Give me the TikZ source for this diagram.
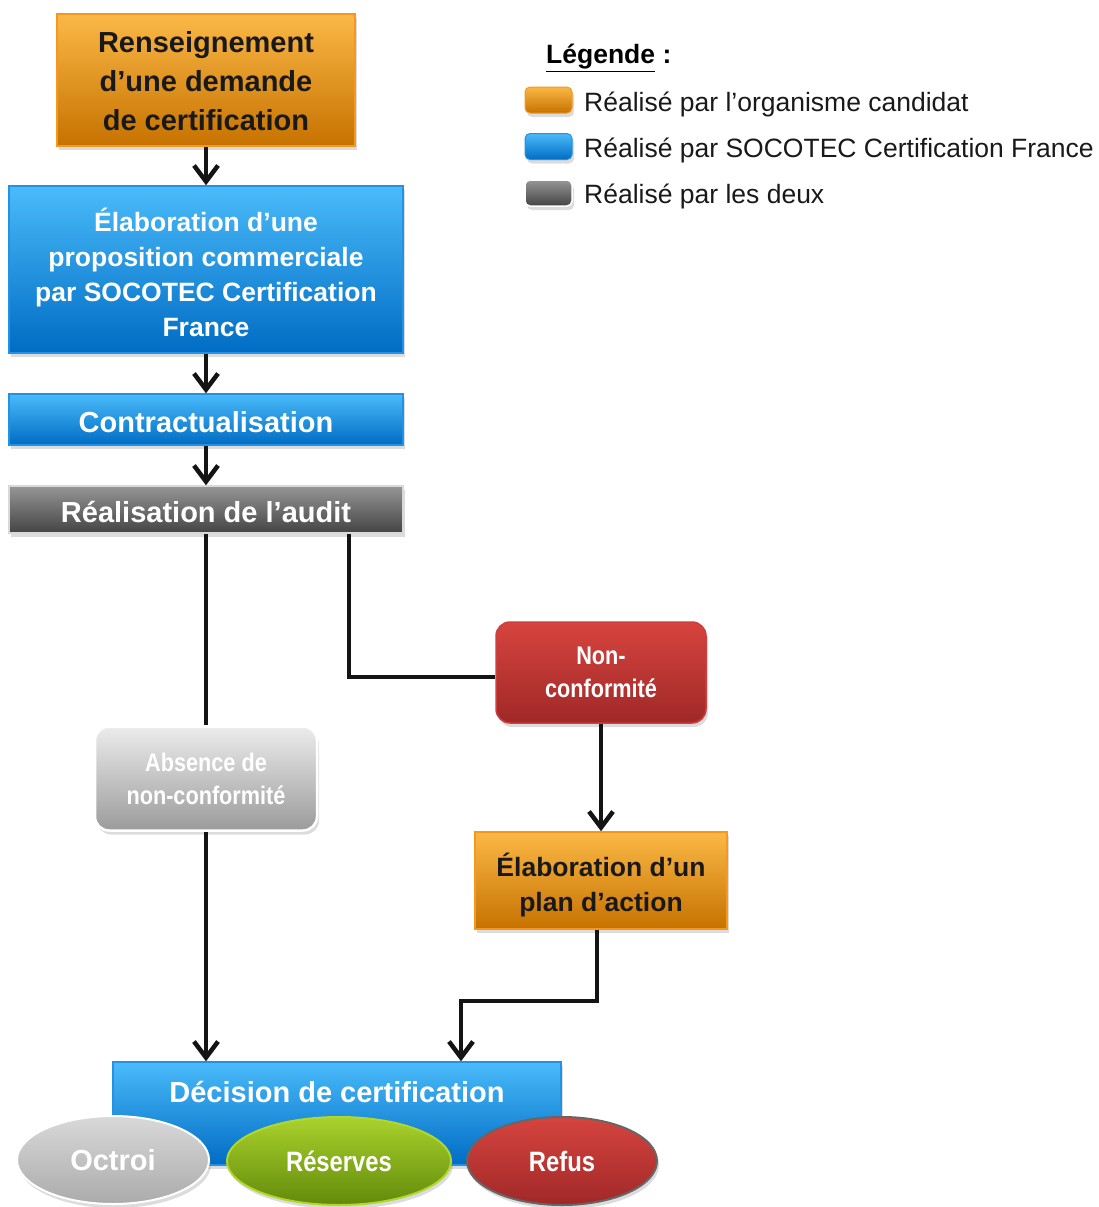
\documentclass[tikz,border=0pt]{standalone}
\usepackage{fontspec}
\setmainfont{Liberation Sans}
\newfontfamily\narrowfont[FakeStretch=0.85]{Liberation Sans}
\usetikzlibrary{shapes.geometric,shadows,arrows.meta}
\definecolor{orT}{RGB}{251,184,70}
\definecolor{orM}{RGB}{243,150,5}
\definecolor{orB}{RGB}{198,114,0}
\definecolor{orD}{RGB}{246,152,30}
\definecolor{blT}{RGB}{74,187,250}
\definecolor{blM}{RGB}{22,150,232}
\definecolor{blB}{RGB}{0,108,196}
\definecolor{blD}{RGB}{35,145,230}
\definecolor{dgT}{RGB}{150,150,150}
\definecolor{dgB}{RGB}{68,68,68}
\definecolor{rdT}{RGB}{214,68,62}
\definecolor{rdB}{RGB}{160,40,40}
\definecolor{rdD}{RGB}{205,62,60}
\definecolor{lgT}{RGB}{236,236,236}
\definecolor{lgB}{RGB}{155,155,155}
\definecolor{grT}{RGB}{170,210,45}
\definecolor{grB}{RGB}{98,138,10}
\definecolor{grD}{RGB}{175,215,45}
\definecolor{txt}{RGB}{25,25,25}
\newcommand{\shiftdown}[2]{\raisebox{-#1}[\height][\depth]{\begin{tabular}{@{}c@{}}#2\end{tabular}}}
\begin{document}
\begin{tikzpicture}[x=1pt,y=-1pt,
  shad/.style={drop shadow={shadow xshift=2pt,shadow yshift=-4pt,opacity=0.28}},
  box/.style={rectangle,inner sep=0pt,align=center,shad,
    font=\bfseries\fontsize{29}{39}\selectfont},
  orangebox/.style={box,top color=orT,middle color=orM,bottom color=orB,draw=orD,line width=1.5pt,text=txt},
  bluebox/.style={box,top color=blT,middle color=blM,bottom color=blB,draw=blD,line width=1.5pt,text=white},
  darkbox/.style={box,top color=dgT,bottom color=dgB,draw=black!15,line width=1.5pt,text=white},
  redbox/.style={box,rounded corners=14pt,top color=rdT,bottom color=rdB,draw=rdD,line width=1.5pt,text=white,
    font=\narrowfont\bfseries\fontsize{25.5}{33}\selectfont},
  lightbox/.style={box,rounded corners=14pt,top color=lgT,bottom color=lgB,draw=white,line width=2.5pt,text=white,
    font=\narrowfont\bfseries\fontsize{25.5}{33}\selectfont},
  outcome/.style={ellipse,inner sep=0pt,shad,minimum height=88pt,text=white,
    font=\narrowfont\bfseries\fontsize{28}{30}\selectfont},
  swatch/.style={rectangle,rounded corners=5pt,minimum width=47pt,minimum height=26pt,inner sep=0pt,shad},
  legtext/.style={anchor=west,inner sep=0pt,text=txt,font=\fontsize{26.5}{30}\selectfont},
  conn/.style={line width=4pt,draw=black!92},
  arr/.style={conn,-{Straight Barb[length=16pt,width=24pt,line width=4.5pt]}}
]
\useasboundingbox (0,0) rectangle (1099,1207);

% main flow
\node[orangebox,minimum width=298pt,minimum height=132pt] (dem) at (206,80)
  {\shiftdown{4pt}{Renseignement\\d’une demande\\de certification}};
\node[bluebox,minimum width=394pt,minimum height=167pt,font=\bfseries\fontsize{26.5}{35}\selectfont] (prop) at (206,269.5)
  {\shiftdown{7.5pt}{Élaboration d’une\\proposition commerciale\\par SOCOTEC Certification\\France}};
\node[bluebox,minimum width=394pt,minimum height=51pt] (contr) at (206,419.5) {\shiftdown{5pt}{Contractualisation}};
\node[darkbox,minimum width=394pt,minimum height=47pt] (real) at (206,509.5) {\shiftdown{5pt}{Réalisation de l’audit}};
\node[redbox,minimum width=210pt,minimum height=101pt] (nc) at (601,672.5) {Non-\\conformité};
\node[lightbox,minimum width=222pt,minimum height=104pt] (abs) at (206,778.5) {Absence de\\non-conformité};
\node[orangebox,minimum width=252pt,minimum height=97pt,font=\bfseries\fontsize{26.5}{35}\selectfont] (plan) at (601,880.5)
  {\shiftdown{6pt}{Élaboration d’un\\plan d’action}};
\node[bluebox,minimum width=448pt,minimum height=103pt,text height=40pt,text depth=63pt] (dec) at (337,1113.5)
  {Décision de certification};

% outcomes
\node[outcome,minimum width=192pt,top color=black!15,bottom color=black!33,draw=white,line width=2pt,
  font=\bfseries\fontsize{29}{32}\selectfont] (oct) at (113,1160) {Octroi};
\node[outcome,minimum width=224pt,top color=grT,bottom color=grB,draw=grD,line width=2pt] (res) at (339,1161) {Réserves};
\node[outcome,minimum width=190pt,top color=rdT,bottom color=rdB,draw=black!60,line width=2pt] (ref) at (562,1161) {Refus};

% connectors
\draw[arr] (dem.south) -- (prop.north);
\draw[arr] (prop.south) -- (contr.north);
\draw[arr] (contr.south) -- (real.north);
\draw[conn] (real.south) -- (abs.north);
\draw[arr] (abs.south) -- (abs.south |- dec.north);
\draw[conn] ([xshift=143pt]real.south) |- ([yshift=-4pt]nc.west);
\draw[arr] (nc.south) -- (plan.north);
\draw[arr] ([xshift=-4pt]plan.south) -- ++(0,71) -| ([xshift=124pt]dec.north);

% legend
\node[anchor=west,inner sep=0pt,text=black,font=\bfseries\fontsize{26.5}{30}\selectfont] (legt) at (546,58) {\underline{Légende} :};
\node[swatch,top color=orT,middle color=orM,bottom color=orB,draw=orD,line width=1pt] (sw1) at (548.5,100) {};
\node[swatch,top color=blT,middle color=blM,bottom color=blB,draw=blD,line width=1pt] (sw2) at (548.5,146.5) {};
\node[swatch,top color=dgT,bottom color=dgB,draw=white,line width=1.5pt] (sw3) at (548.5,193) {};
\node[legtext] (l1) at (584,104) {Réalisé par l’organisme candidat};
\node[legtext] (l2) at (584,150) {Réalisé par SOCOTEC Certification France};
\node[legtext] (l3) at (584,196) {Réalisé par les deux};
\end{tikzpicture}
\end{document}
